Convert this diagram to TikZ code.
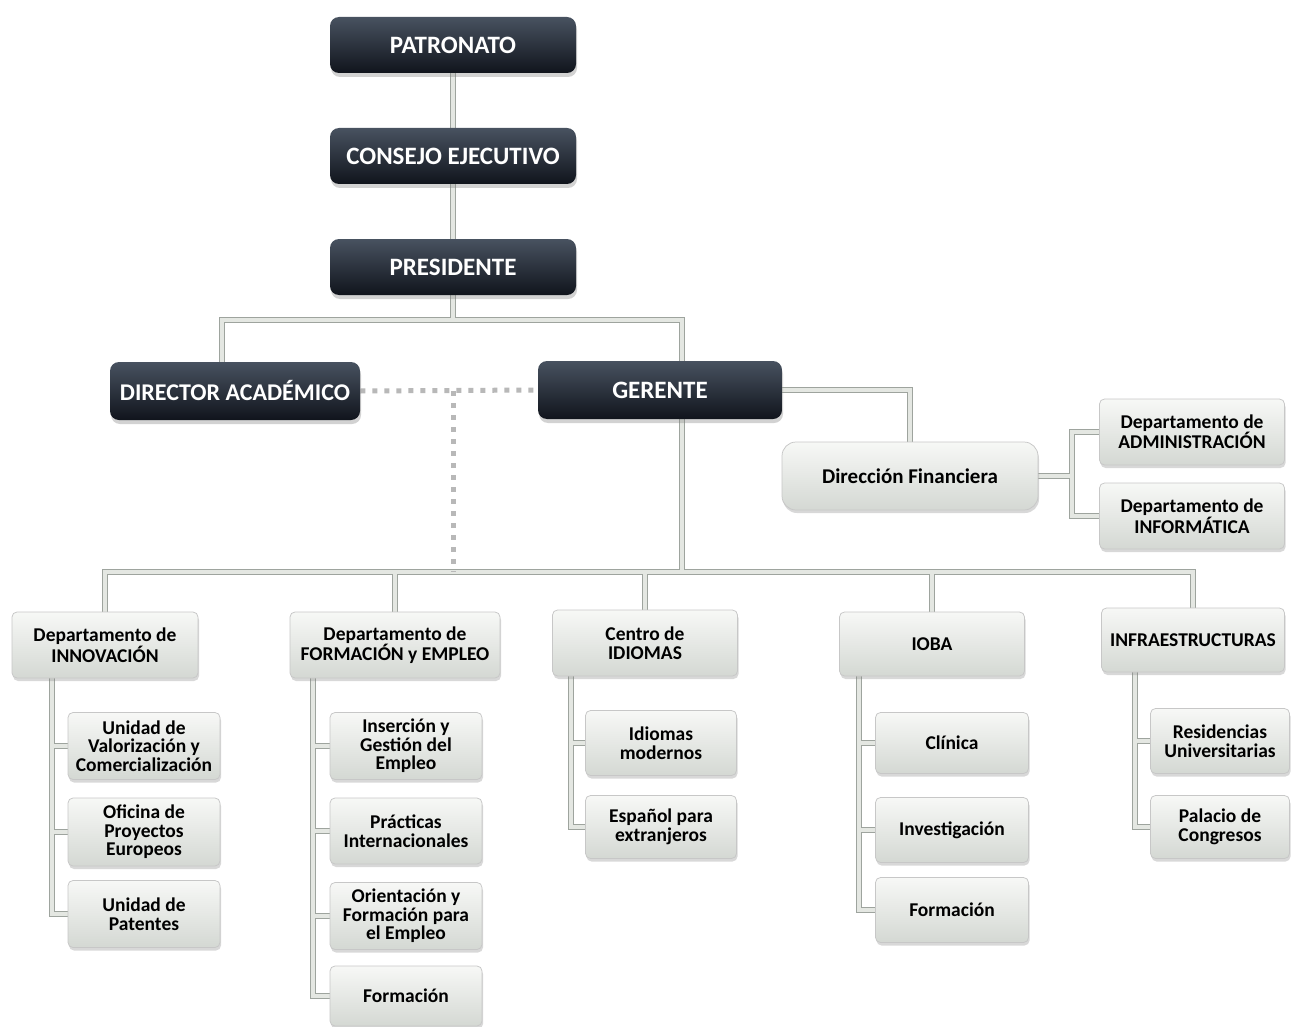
\documentclass[tikz,border=0pt]{standalone}
\usepackage{fontspec}
\setmainfont{Carlito}
\usetikzlibrary{shadows,backgrounds}

\definecolor{darktop}{RGB}{72,82,96}
\definecolor{darkbot}{RGB}{16,20,28}
\definecolor{lighttop}{RGB}{247,248,246}
\definecolor{lightbot}{RGB}{212,216,211}
\definecolor{connout}{RGB}{158,164,158}
\definecolor{connin}{RGB}{228,231,226}

\tikzset{every picture/.style={line width=0.75pt}}
\tikzset{
  darkbox/.style={rectangle, rounded corners=9, top color=darktop, bottom color=darkbot,
    text=white, font=\fontsize{25}{28}\selectfont\bfseries, minimum width=246, minimum height=56,
    drop shadow={shadow xshift=1pt, shadow yshift=-4pt, opacity=0.35}},
  lightbox/.style={rectangle, rounded corners=5, draw=black!22, top color=lighttop, bottom color=lightbot,
    text=black, font=\fontsize{19.5}{18.5}\selectfont\bfseries, align=center, inner sep=2,
    drop shadow={shadow xshift=1pt, shadow yshift=-3pt, opacity=0.3}},
  conn/.style={draw=connin, line width=3.5, preaction={draw=connout, line width=6.5}},
  dashconn/.style={draw=black!28, line width=5, dash pattern=on 5 off 7}
}

\begin{document}
\begin{tikzpicture}[x=1pt,y=1pt,yscale=-1,xscale=1]
\useasboundingbox (0,0) rectangle (1292,1027);

% top of the chart
\node[darkbox] (patronato) at (453,45) {PATRONATO};
\node[darkbox] (consejo) at (453,156) {CONSEJO EJECUTIVO};
\node[darkbox] (presidente) at (453,267) {PRESIDENTE};
\node[darkbox, minimum width=250, minimum height=58, font=\fontsize{24}{28}\selectfont\bfseries] (director) at (235,391) {DIRECTOR ACADÉMICO};
\node[darkbox, minimum width=244, minimum height=58] (gerente) at (660,390) {GERENTE};

% financiera
\node[lightbox, rounded corners=14, minimum width=256, minimum height=68, font=\fontsize{21}{22}\selectfont\bfseries] (dirfin) at (910,476) {Dirección Financiera};
\node[lightbox, minimum width=185, minimum height=66] (admin) at (1192,432) {Departamento de\\ADMINISTRACIÓN};
\node[lightbox, minimum width=185, minimum height=66] (informatica) at (1192,516) {Departamento de\\INFORMÁTICA};

% departamentos
\node[lightbox, minimum width=186, minimum height=66] (innovacion) at (105,645) {Departamento de\\INNOVACIÓN};
\node[lightbox, minimum width=210, minimum height=66] (formacion) at (395,645) {Departamento de\\FORMACIÓN y EMPLEO};
\node[lightbox, minimum width=185, minimum height=66] (idiomas) at (645,643) {Centro de\\IDIOMAS};
\node[lightbox, minimum width=185, minimum height=64] (ioba) at (932,644) {IOBA};
\node[lightbox, minimum width=183, minimum height=64] (infra) at (1193,640) {INFRAESTRUCTURAS};

% unidades
\node[lightbox, minimum width=152, minimum height=67] (valorizacion) at (144,746) {Unidad de\\Valorización y\\Comercialización};
\node[lightbox, minimum width=152, minimum height=68] (proyectos) at (144,832) {Oficina de\\Proyectos\\Europeos};
\node[lightbox, minimum width=152, minimum height=67] (patentes) at (144,914) {Unidad de\\Patentes};

\node[lightbox, minimum width=152, minimum height=67] (insercion) at (406,746) {Inserción y\\Gestión del\\Empleo};
\node[lightbox, minimum width=152, minimum height=66] (practicas) at (406,831) {Prácticas\\Internacionales};
\node[lightbox, minimum width=152, minimum height=67] (orientacion) at (406,916) {Orientación y\\Formación para\\el Empleo};
\node[lightbox, minimum width=152, minimum height=60] (formacionB) at (406,996) {Formación};

\node[lightbox, minimum width=151, minimum height=65] (modernos) at (661,743) {Idiomas\\modernos};
\node[lightbox, minimum width=151, minimum height=63] (espanol) at (661,827) {Español para\\extranjeros};

\node[lightbox, minimum width=153, minimum height=61] (clinica) at (952,743) {Clínica};
\node[lightbox, minimum width=153, minimum height=65] (investigacion) at (952,830) {Investigación};
\node[lightbox, minimum width=153, minimum height=65] (formacionC) at (952,910) {Formación};

\node[lightbox, minimum width=139, minimum height=65] (residencias) at (1220,741) {Residencias\\Universitarias};
\node[lightbox, minimum width=139, minimum height=63] (congresos) at (1220,827) {Palacio de\\Congresos};

% junctions
\coordinate (busA) at (453,320);
\coordinate (busB) at (682,572);
\coordinate (busD) at (1072,476);
\coordinate (spineA) at (52,0);
\coordinate (spineB) at (313,0);
\coordinate (spineC) at (571,0);
\coordinate (spineD) at (859,0);
\coordinate (spineE) at (1135,0);

\begin{scope}[on background layer]
\fill[white] (0,0) rectangle (1292,1027);
\draw[conn]
  (patronato) -- (consejo) -- (presidente)
  (presidente) -- (busA)
  (director.north -| 222,0) |- (busA) -| (gerente.north -| 682,0)
  (gerente.south -| busB) -- (busB)
  (innovacion.north) |- (busB) -| (infra.north)
  (formacion.north) -- (formacion.north |- busB)
  (idiomas.north) -- (idiomas.north |- busB)
  (ioba.north) -- (ioba.north |- busB)
  (gerente.east) -| (dirfin.north)
  (dirfin.east) -- (busD)
  (admin.west) -| (busD) |- (informatica.west)
  % innovacion
  (innovacion.south -| spineA) |- (patentes.west)
  (valorizacion.west) -- (valorizacion.west -| spineA)
  (proyectos.west) -- (proyectos.west -| spineA)
  % formacion y empleo
  (formacion.south -| spineB) |- (formacionB.west)
  (insercion.west) -- (insercion.west -| spineB)
  (practicas.west) -- (practicas.west -| spineB)
  (orientacion.west) -- (orientacion.west -| spineB)
  % idiomas
  (idiomas.south -| spineC) |- (espanol.west)
  (modernos.west) -- (modernos.west -| spineC)
  % ioba
  (ioba.south -| spineD) |- (formacionC.west)
  (clinica.west) -- (clinica.west -| spineD)
  (investigacion.west) -- (investigacion.west -| spineD)
  % infraestructuras
  (infra.south -| spineE) |- (congresos.west)
  (residencias.west) -- (residencias.west -| spineE);
\draw[dashconn] (director.east) -- (gerente.west);
\draw[dashconn] (director.east -| busA) -- (busA |- busB);
\end{scope}

\end{tikzpicture}
\end{document}
